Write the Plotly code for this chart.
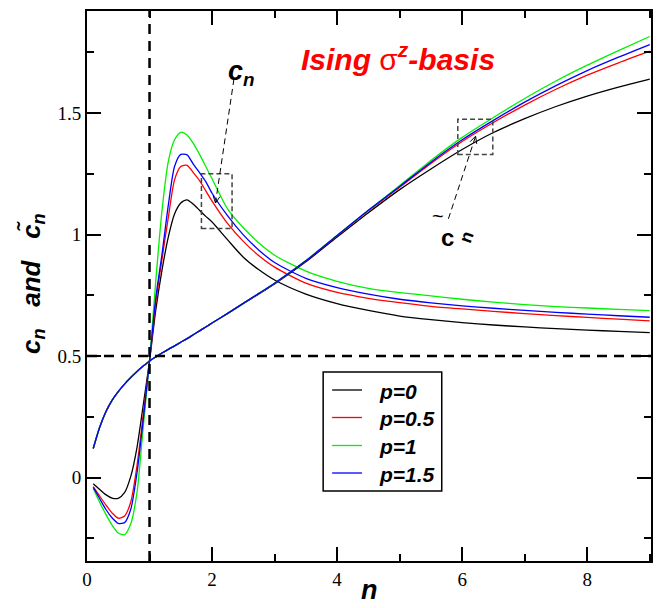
import plotly.graph_objects as go

# sample points in n
n = [0.1, 0.2, 0.3, 0.4, 0.5, 0.6, 0.7, 0.8, 0.9, 1.0,
     1.1, 1.2, 1.3, 1.4, 1.5, 1.6, 1.7, 1.8, 1.9, 2.0,
     2.25, 2.5, 2.75, 3.0, 3.5, 4.0, 4.5, 5.0, 5.5, 6.0,
     6.5, 7.0, 7.5, 8.0, 8.5, 9.0]

# c_n for each p
c_p0 = [-0.025, -0.048, -0.07, -0.084, -0.085, -0.062, 0.005, 0.125, 0.30, 0.48,
        0.69, 0.855, 0.99, 1.085, 1.13, 1.143, 1.125, 1.10, 1.075, 1.052,
        0.978, 0.907, 0.855, 0.813, 0.755, 0.716, 0.688, 0.665, 0.65, 0.638,
        0.628, 0.62, 0.613, 0.607, 0.602, 0.597]
c_p05 = [-0.037, -0.075, -0.112, -0.145, -0.167, -0.158, -0.10, 0.05, 0.26, 0.48,
         0.72, 0.90, 1.07, 1.225, 1.28, 1.285, 1.255, 1.222, 1.18, 1.138,
         1.045, 0.972, 0.913, 0.866, 0.80, 0.762, 0.738, 0.72, 0.705, 0.694,
         0.684, 0.675, 0.667, 0.659, 0.652, 0.645]
c_p1 = [-0.045, -0.10, -0.15, -0.195, -0.228, -0.235, -0.19, -0.06, 0.21, 0.48,
        0.81, 1.10, 1.30, 1.39, 1.421, 1.41, 1.375, 1.33, 1.28, 1.23,
        1.105, 1.028, 0.965, 0.915, 0.85, 0.808, 0.779, 0.761, 0.748, 0.734,
        0.722, 0.712, 0.704, 0.698, 0.692, 0.687]
c_p15 = [-0.04, -0.085, -0.13, -0.165, -0.188, -0.185, -0.13, 0.02, 0.24, 0.48,
         0.74, 0.92, 1.12, 1.28, 1.33, 1.328, 1.29, 1.255, 1.218, 1.17,
         1.077, 0.999, 0.936, 0.885, 0.82, 0.782, 0.755, 0.734, 0.719, 0.707,
         0.697, 0.688, 0.68, 0.673, 0.666, 0.66]

# c-tilde_n for each p
ct_p0 = [0.12, 0.205, 0.27, 0.318, 0.354, 0.385, 0.412, 0.437, 0.459, 0.48,
         0.497, 0.513, 0.528, 0.542, 0.557, 0.572, 0.588, 0.604, 0.62, 0.636,
         0.676, 0.717, 0.756, 0.797, 0.888, 0.99, 1.09, 1.185, 1.27, 1.35,
         1.42, 1.477, 1.527, 1.57, 1.607, 1.64]
ct_p05 = [0.12, 0.205, 0.27, 0.318, 0.354, 0.385, 0.412, 0.437, 0.459, 0.48,
          0.497, 0.513, 0.528, 0.542, 0.557, 0.572, 0.588, 0.604, 0.62, 0.636,
          0.676, 0.717, 0.758, 0.80, 0.892, 0.995, 1.098, 1.195, 1.293, 1.383,
          1.461, 1.533, 1.598, 1.656, 1.707, 1.755]
ct_p1 = [0.12, 0.205, 0.27, 0.318, 0.354, 0.385, 0.412, 0.437, 0.459, 0.48,
         0.497, 0.513, 0.528, 0.542, 0.557, 0.572, 0.588, 0.604, 0.62, 0.636,
         0.676, 0.717, 0.758, 0.80, 0.893, 0.997, 1.10, 1.202, 1.305, 1.40,
         1.482, 1.56, 1.632, 1.697, 1.757, 1.815]
ct_p15 = [0.12, 0.205, 0.27, 0.318, 0.354, 0.385, 0.412, 0.437, 0.459, 0.48,
          0.497, 0.513, 0.528, 0.542, 0.557, 0.572, 0.588, 0.604, 0.62, 0.636,
          0.676, 0.717, 0.758, 0.80, 0.892, 0.996, 1.10, 1.198, 1.298, 1.39,
          1.47, 1.545, 1.613, 1.675, 1.73, 1.782]

labels = ["p=0", "p=0.5", "p=1", "p=1.5"]
colors = ["#000000", "#ff0000", "#00f000", "#0000ff"]
c_series = [c_p0, c_p05, c_p1, c_p15]
ct_series = [ct_p0, ct_p05, ct_p1, ct_p15]

X_RANGE = [0, 9.02]
Y_RANGE = [-0.343, 1.92]
W, H = 661, 608
M = dict(l=87, r=8, t=11, b=47)
PW, PH = W - M["l"] - M["r"], H - M["t"] - M["b"]

SANS = "Liberation Sans, Arial, sans-serif"
SERIF = "Liberation Serif, Times New Roman, serif"


def px(x):
    """page pixel column -> paper x"""
    return (x - M["l"]) / PW


def py(y):
    """page pixel row -> paper y"""
    return (H - M["b"] - y) / PH


fig = go.Figure()
for lab, col, c in zip(labels, colors, c_series):
    fig.add_trace(go.Scatter(x=n, y=c, mode="lines", name=lab, legendgroup=lab,
                             showlegend=False,
                             line=dict(color=col, width=1.3, shape="spline", smoothing=0.7)))
for lab, col, ct in zip(labels, colors, ct_series):
    fig.add_trace(go.Scatter(x=n, y=ct, mode="lines", name=lab, legendgroup=lab,
                             showlegend=False,
                             line=dict(color=col, width=1.3, shape="spline", smoothing=0.7)))

shapes = []
# reference lines n = 1 and c = 0.5
shapes.append(dict(type="line", xref="x", yref="paper", x0=1, x1=1, y0=0, y1=1,
                   line=dict(color="black", width=2.5, dash="10px,7px")))
shapes.append(dict(type="line", xref="paper", yref="y", x0=0, x1=1, y0=0.5, y1=0.5,
                   line=dict(color="black", width=2.5, dash="10px,7px")))
# zoom boxes
for x0, x1, y0, y1 in [(1.83, 2.32, 1.025, 1.25), (5.93, 6.49, 1.33, 1.475)]:
    shapes.append(dict(type="rect", xref="x", yref="y", x0=x0, x1=x1, y0=y0, y1=y1,
                       line=dict(color="#444444", width=1.5, dash="5px,3px")))

# pointer lines with open arrow tips
px_x = PW / (X_RANGE[1] - X_RANGE[0])
px_y = PH / (Y_RANGE[1] - Y_RANGE[0])


def pointer(tail, tip):
    shapes.append(dict(type="line", xref="x", yref="y", x0=tail[0], y0=tail[1],
                       x1=tip[0], y1=tip[1],
                       line=dict(color="black", width=1, dash="6px,4px")))
    dx = (tip[0] - tail[0]) * px_x
    dy = (tip[1] - tail[1]) * px_y
    L = (dx * dx + dy * dy) ** 0.5
    ux, uy = dx / L, dy / L
    for s in (1, -1):
        bx = -ux * 7 + s * (-uy) * 3.5
        by = -uy * 7 + s * ux * 3.5
        shapes.append(dict(type="line", xref="x", yref="y", x0=tip[0], y0=tip[1],
                           x1=tip[0] + bx / px_x, y1=tip[1] + by / px_y,
                           line=dict(color="black", width=1)))


pointer((2.35, 1.64), (2.055, 1.13))
pointer((5.78, 1.065), (6.215, 1.405))

annotations = [
    dict(x=4.97, y=1.73, xref="x", yref="y", showarrow=False,
         text="<b><i>Ising </i></b>σ<sup><b><i>z</i></b></sup><b><i>-basis</i></b>",
         font=dict(family=SANS, size=30, color="#ff0000")),
    dict(x=2.22, y=1.665, xref="x", yref="y", showarrow=False, xanchor="left",
         text="<b><i>c<sub>n</sub></i></b>",
         font=dict(family=SANS, size=27, color="black")),
    dict(x=5.61, y=1.075, xref="x", yref="y", showarrow=False,
         text="~", font=dict(family=SANS, size=20, color="black")),
    dict(x=5.76, y=0.99, xref="x", yref="y", showarrow=False,
         text="<b>c</b>", font=dict(family=SANS, size=24, color="black")),
    dict(x=6.07, y=0.99, xref="x", yref="y", showarrow=False, textangle=-70,
         text="<b>n</b>", font=dict(family=SANS, size=18, color="black")),
    # axis titles
    dict(x=0.5, y=py(607), xref="paper", yref="paper",
         yanchor="bottom", showarrow=False, text="<b><i>n</i></b>",
         font=dict(family=SANS, size=27, color="black")),
    dict(x=px(13), y=0.505, xref="paper", yref="paper",
         showarrow=False, textangle=-90,
         text="<b><i>c<sub>n</sub>&nbsp;&nbsp;&nbsp;and&nbsp;&nbsp;&nbsp;c̃<sub>n</sub></i></b>",
         font=dict(family=SANS, size=26, color="black")),
]

# legend box with line samples and labels
shapes.append(dict(type="rect", xref="paper", yref="paper",
                   x0=px(324), x1=px(443), y0=py(491), y1=py(372),
                   fillcolor="white", line=dict(color="black", width=1.5), layer="above"))
row_y = [390, 417.5, 445.5, 473]
for lab, col, ry in zip(labels, colors, row_y):
    shapes.append(dict(type="line", xref="paper", yref="paper",
                       x0=px(333), x1=px(363), y0=py(ry), y1=py(ry),
                       line=dict(color=col, width=1.3), layer="above"))
    annotations.append(dict(x=px(378), y=py(ry + 1), xref="paper", yref="paper",
                            xanchor="left", yanchor="middle", showarrow=False,
                            text="<b><i>" + lab + "</i></b>",
                            font=dict(family=SANS, size=21, color="black")))

axis_common = dict(
    showgrid=False, zeroline=False, showline=True, linecolor="black", linewidth=2,
    mirror="allticks", ticks="inside", ticklen=14, tickwidth=1.5, tickcolor="black",
    tickfont=dict(family=SERIF, size=19, color="black"),
)

fig.update_layout(
    width=W, height=H, margin=M,
    paper_bgcolor="white", plot_bgcolor="white",
    xaxis=dict(range=X_RANGE, dtick=2, tick0=0,
               minor=dict(dtick=1, ticks="inside", ticklen=7, tickwidth=1.5, tickcolor="black"),
               **axis_common),
    yaxis=dict(range=Y_RANGE, dtick=0.5, tick0=0,
               minor=dict(dtick=0.25, ticks="inside", ticklen=7, tickwidth=1.5, tickcolor="black"),
               **axis_common),
    shapes=shapes,
    annotations=annotations,
    showlegend=False,
)

fig.write_html("out.html")
